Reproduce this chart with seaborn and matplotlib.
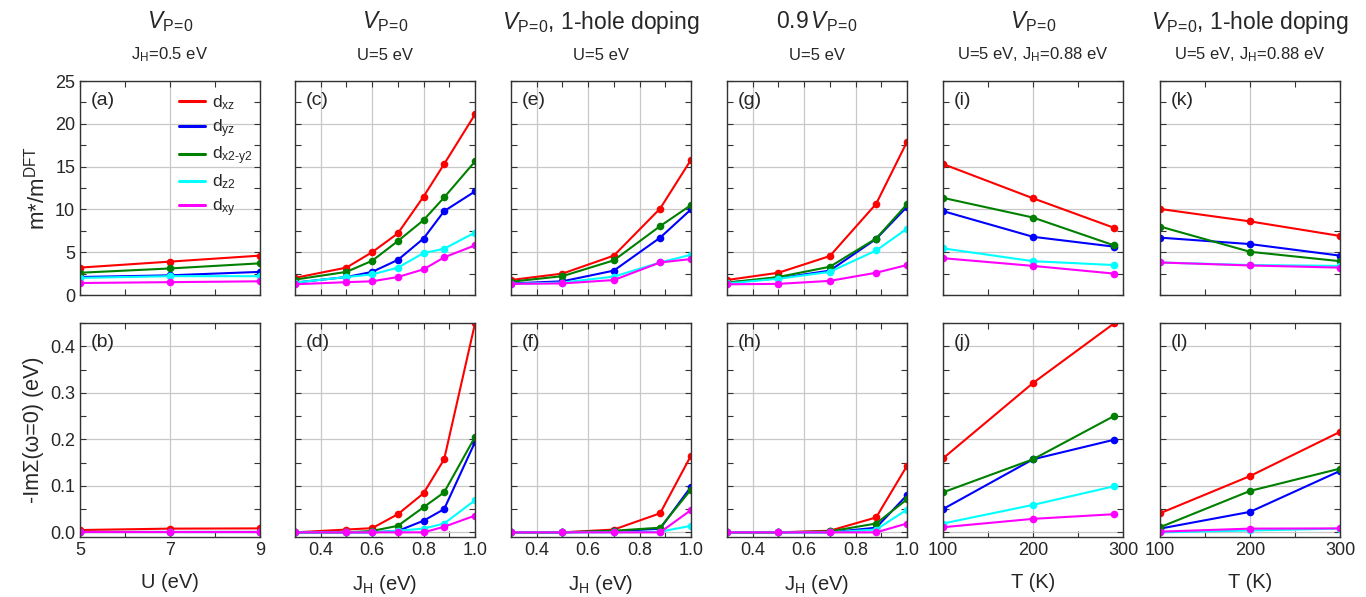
import numpy as np
import pandas as pd
import matplotlib
matplotlib.use('Agg')
import matplotlib.pyplot as plt
from matplotlib.lines import Line2D
from matplotlib.ticker import MultipleLocator, FixedLocator, FormatStrFormatter
import seaborn as sns

sns.set_style('ticks')
plt.rcParams['font.family'] = ['Liberation Sans', 'DejaVu Sans']
plt.rcParams['mathtext.fontset'] = 'custom'
plt.rcParams['mathtext.rm'] = 'Liberation Sans'
plt.rcParams['mathtext.it'] = 'Liberation Sans:italic'

# orbitals, in legend order
orb_labels = [r'd$_{\mathrm{xz}}$', r'd$_{\mathrm{yz}}$', r'd$_{\mathrm{x2}}$$_{\mathrm{\u2010y2}}$',
              r'd$_{\mathrm{z2}}$', r'd$_{\mathrm{xy}}$']
orb_labels[2] = 'd$_{\\mathrm{x2\u2010y2}}$'
colors = ['#ff0000', '#0000ff', '#008000', '#00ffff', '#ff00ff']

# x values
u_vals = [5, 7, 9]
jh_c = [0.3, 0.5, 0.6, 0.7, 0.8, 0.88, 1.0]
jh_eg = [0.3, 0.5, 0.7, 0.88, 1.0]
t_i = [100, 200, 290]
t_k = [100, 200, 300]

# m*/m_DFT  (rows: xz, yz, x2-y2, z2, xy)
mass_a = [[3.2, 3.9, 4.6], [2.1, 2.3, 2.7], [2.6, 3.1, 3.7], [2.0, 2.2, 2.2], [1.4, 1.5, 1.6]]
mass_c = [[2.0, 3.2, 5.0, 7.2, 11.5, 15.3, 21.1],
          [1.45, 2.1, 2.7, 4.1, 6.6, 9.8, 12.1],
          [1.8, 2.7, 4.0, 6.3, 8.75, 11.4, 15.6],
          [1.45, 2.1, 2.4, 3.2, 4.9, 5.4, 7.3],
          [1.25, 1.5, 1.6, 2.1, 3.0, 4.4, 5.8]]
mass_e = [[1.75, 2.5, 4.6, 10.1, 15.8],
          [1.35, 1.6, 2.85, 6.7, 10.0],
          [1.55, 2.2, 4.05, 8.05, 10.5],
          [1.3, 1.45, 2.15, 3.8, 4.7],
          [1.3, 1.35, 1.75, 3.8, 4.2]]
mass_g = [[1.75, 2.6, 4.55, 10.65, 17.9],
          [1.45, 1.95, 2.85, 6.55, 10.3],
          [1.45, 2.1, 3.3, 6.6, 10.6],
          [1.35, 1.9, 2.7, 5.2, 7.75],
          [1.25, 1.3, 1.65, 2.6, 3.5]]
mass_i = [[15.3, 11.3, 7.85], [9.8, 6.8, 5.65], [11.35, 9.05, 5.8], [5.45, 3.95, 3.5], [4.3, 3.4, 2.5]]
mass_k = [[10.05, 8.6, 6.9], [6.7, 5.95, 4.6], [8.0, 5.05, 3.95], [3.8, 3.5, 3.4], [3.8, 3.45, 3.2]]

# -Im Sigma(w=0) in eV
sig_b = [[0.005, 0.008, 0.0085], [0.0, 0.0, 0.0], [0.0, 0.0, 0.0], [0.0, 0.0, 0.0], [0.0, 0.0, 0.0]]
sig_d = [[0.0, 0.006, 0.009, 0.039, 0.084, 0.157, 0.449],
         [0.0, 0.0, 0.0, 0.003, 0.025, 0.05, 0.194],
         [0.0, 0.0, 0.003, 0.014, 0.054, 0.086, 0.205],
         [0.0, 0.0, 0.0, 0.0035, 0.008, 0.019, 0.069],
         [0.0, 0.0, 0.0, 0.0, 0.0, 0.012, 0.036]]
sig_f = [[0.0, 0.0, 0.006, 0.041, 0.165],
         [0.0, 0.0, 0.002, 0.008, 0.098],
         [0.0, 0.0, 0.0035, 0.01, 0.092],
         [0.0, 0.0, 0.0, 0.0015, 0.014],
         [0.0, 0.0, 0.0, 0.0, 0.048]]
sig_h = [[0.0, 0.0, 0.0035, 0.032, 0.143],
         [0.0, 0.0, 0.0, 0.01, 0.08],
         [0.0, 0.0, 0.002, 0.019, 0.071],
         [0.0, 0.0, 0.0, 0.006, 0.049],
         [0.0, 0.0, 0.0, 0.0, 0.019]]
sig_j = [[0.159, 0.321, 0.449], [0.05, 0.157, 0.199], [0.086, 0.157, 0.25], [0.019, 0.059, 0.099], [0.011, 0.029, 0.039]]
sig_l = [[0.041, 0.121, 0.216], [0.008, 0.044, 0.132], [0.011, 0.089, 0.137], [0.0, 0.004, 0.008], [0.0015, 0.008, 0.0085]]

col_x = [u_vals, jh_c, jh_eg, jh_eg, t_i, t_k]
top_data = [mass_a, mass_c, mass_e, mass_g, mass_i, mass_k]
bot_data = [sig_b, sig_d, sig_f, sig_h, sig_j, sig_l]
top_tags = ['(a)', '(c)', '(e)', '(g)', '(i)', '(k)']
bot_tags = ['(b)', '(d)', '(f)', '(h)', '(j)', '(l)']
vp = r'$V_{\mathrm{P\!=\!0}}$'
titles = [vp, vp, vp + ', 1-hole doping', r'0.9$\,$' + vp, vp, vp + ', 1-hole doping']
subtitles = [r'J$_{\mathrm{H}}$=0.5 eV', 'U=5 eV', 'U=5 eV', 'U=5 eV',
             r'U=5 eV, J$_{\mathrm{H}}$=0.88 eV', r'U=5 eV, J$_{\mathrm{H}}$=0.88 eV']
xlabels = ['U (eV)', r'J$_{\mathrm{H}}$ (eV)', r'J$_{\mathrm{H}}$ (eV)', r'J$_{\mathrm{H}}$ (eV)',
           'T (K)', 'T (K)']
xlims = [(5, 9), (0.3, 1.0), (0.3, 1.0), (0.3, 1.0), (100, 300), (100, 300)]
xmaj = [[5, 7, 9], [0.4, 0.6, 0.8, 1.0], [0.4, 0.6, 0.8, 1.0], [0.4, 0.6, 0.8, 1.0],
        [100, 200, 300], [100, 200, 300]]
xmin = [[6, 8], [0.3, 0.5, 0.7, 0.9], [0.3, 0.5, 0.7, 0.9], [0.3, 0.5, 0.7, 0.9],
        [150, 250], [150, 250]]


def long_frame(x, rows):
    return pd.DataFrame({
        'x': np.tile(x, len(rows)),
        'y': np.ravel(rows),
        'orb': np.repeat(orb_labels, len(x)),
    })


def style_axis(ax, col):
    ax.set_xlim(*xlims[col])
    ax.xaxis.set_major_locator(FixedLocator(xmaj[col]))
    ax.xaxis.set_minor_locator(FixedLocator(xmin[col]))
    ax.tick_params(which='both', direction='in', top=True, right=True,
                   length=4, width=0.8, labelsize=13, color='#333333')
    ax.grid(True, which='major', color='#c8c8c8', linewidth=0.9)
    ax.set_axisbelow(True)
    for s in ax.spines.values():
        s.set_linewidth(1.0)
        s.set_color('#333333')
    ax.set_xlabel('')
    ax.set_ylabel('')


fig = plt.figure(figsize=(13.66, 5.97), dpi=100)
lefts = [80, 295, 511, 727, 943, 1160]
W, H = 1366.0, 597.0
pw, ph = 180 / W, 214 / H

for col in range(6):
    x = col_x[col]
    ax_t = fig.add_axes([lefts[col] / W, 1 - 295 / H, pw, ph])
    ax_b = fig.add_axes([lefts[col] / W, 1 - 537 / H, pw, ph])

    for ax, rows, tag in [(ax_t, top_data[col], top_tags[col]), (ax_b, bot_data[col], bot_tags[col])]:
        df = long_frame(x, rows)
        sns.lineplot(data=df, x='x', y='y', hue='orb', hue_order=orb_labels,
                     palette=colors, marker='o', markersize=5.5, markeredgewidth=0,
                     linewidth=1.5, legend=False, ax=ax)
        style_axis(ax, col)
        ax.text(0.06, 0.95, tag, transform=ax.transAxes, ha='left', va='top', fontsize=14)

    ax_t.set_ylim(0, 25)
    ax_t.yaxis.set_major_locator(MultipleLocator(5))
    ax_t.yaxis.set_minor_locator(MultipleLocator(2.5))
    ax_t.tick_params(axis='x', labelbottom=False)

    ax_b.set_ylim(-0.01, 0.45)
    ax_b.yaxis.set_major_locator(MultipleLocator(0.1))
    ax_b.yaxis.set_minor_locator(MultipleLocator(0.05))
    ax_b.set_xlabel(xlabels[col], fontsize=14.5, labelpad=10)

    if col == 0:
        ax_t.set_ylabel(r'm*/m$^{\mathrm{DFT}}$', fontsize=16)
        ax_b.set_ylabel('-ImΣ(ω=0) (eV)', fontsize=15.5)
        ax_b.yaxis.set_major_formatter(FormatStrFormatter('%.1f'))
        handles = [Line2D([], [], color=c, linewidth=2.2) for c in colors]
        ax_t.legend(handles, orb_labels, loc='upper right', bbox_to_anchor=(1.03, 1.0),
                    frameon=False, fontsize=12.5, handlelength=1.5, handletextpad=0.4,
                    labelspacing=0.3, borderaxespad=0.3)
    else:
        ax_t.tick_params(axis='y', labelleft=False)
        ax_b.tick_params(axis='y', labelleft=False)

    cx = (lefts[col] + 90) / W
    fig.text(cx, 1 - 22 / H, titles[col], ha='center', va='center', fontsize=16.5)
    fig.text(cx, 1 - 55 / H, subtitles[col], ha='center', va='center', fontsize=12)

fig.savefig('out.png', dpi=100)
